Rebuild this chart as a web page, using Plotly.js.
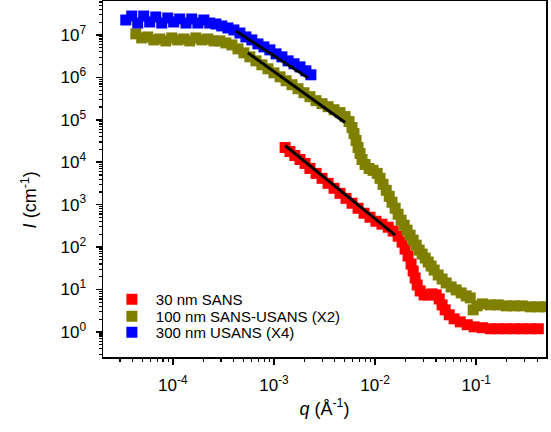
<!DOCTYPE html>
<html><head><meta charset="utf-8">
<script src="https://cdn.plot.ly/plotly-3.0.1.min.js"></script>
<style>html,body{margin:0;padding:0;background:#fff}</style>
</head><body><div id="chart" style="width:551px;height:432px"></div>
<script>
// ---- data ----
const seriesNames = ['30 nm SANS', '100 nm SANS-USANS (X2)', '300 nm USANS (X4)'];

const redQ = [1.29e-3, 1.44e-3, 1.61e-3, 1.81e-3, 2.03e-3, 2.27e-3, 2.61e-3, 2.99e-3, 3.43e-3, 3.93e-3,
  4.50e-3, 5.16e-3, 5.92e-3, 6.79e-3, 7.78e-3, 8.91e-3, 1.02e-2, 1.17e-2, 1.35e-2, 1.51e-2,
  1.69e-2, 1.85e-2, 1.98e-2, 2.12e-2, 2.27e-2, 2.38e-2, 2.49e-2, 2.61e-2, 2.79e-2, 3.05e-2,
  3.35e-2, 3.66e-2, 4.02e-2, 4.31e-2, 4.60e-2, 4.93e-2, 5.41e-2, 6.05e-2, 6.95e-2, 8.15e-2,
  9.55e-2, 1.15e-1, 1.38e-1, 1.65e-1, 1.98e-1, 2.38e-1, 2.85e-1, 3.43e-1, 4.11e-1];
const redI = [2.22e4, 1.79e4, 1.44e4, 1.16e4, 9.38e3, 7.14e3, 5.46e3, 4.17e3, 3.18e3, 2.43e3,
  1.85e3, 1.41e3, 1.08e3, 822, 628, 506, 407, 347, 294, 238,
  181, 131, 89.7, 61.5, 39.9, 27.4, 18.7, 12.8, 9.27, 7.46,
  7.46, 7.89, 7.46, 6.01, 4.35, 3.32, 2.54, 2.04, 1.73, 1.48,
  1.32, 1.26, 1.19, 1.19, 1.19, 1.19, 1.19, 1.19, 1.19];

const oliveQ = [4.31e-5, 4.93e-5, 5.65e-5, 6.49e-5, 7.43e-5, 8.53e-5, 9.77e-5, 1.12e-4, 1.29e-4, 1.47e-4,
  1.69e-4, 1.94e-4, 2.22e-4, 2.55e-4, 2.92e-4, 3.35e-4, 3.84e-4, 4.41e-4, 5.05e-4, 5.78e-4,
  6.64e-4, 7.60e-4, 8.73e-4, 1.00e-3, 1.15e-3, 1.32e-3, 1.51e-3, 1.73e-3, 1.98e-3, 2.27e-3,
  2.61e-3, 2.99e-3, 3.43e-3, 3.93e-3, 4.50e-3, 5.05e-3, 5.53e-3, 5.92e-3, 6.19e-3, 6.49e-3,
  6.79e-3, 7.10e-3, 7.43e-3, 7.96e-3, 8.73e-3, 9.55e-3, 1.05e-2, 1.12e-2, 1.20e-2, 1.29e-2,
  1.38e-2, 1.47e-2, 1.58e-2, 1.69e-2, 1.81e-2, 1.94e-2, 2.07e-2, 2.22e-2, 2.38e-2, 2.55e-2,
  2.73e-2, 2.92e-2, 3.13e-2, 3.35e-2, 3.58e-2, 3.84e-2, 4.21e-2, 4.60e-2, 5.05e-2, 5.65e-2,
  6.34e-2, 7.10e-2, 7.96e-2, 8.73e-2, 9.33e-2, 1.02e-1, 1.15e-1, 1.38e-1, 1.65e-1, 1.98e-1,
  2.38e-1, 2.85e-1, 3.43e-1, 4.11e-1, 4.93e-1];
const oliveI = [1.06e7, 8.51e6, 8.97e6, 7.64e6, 8.05e6, 7.23e6, 8.51e6, 7.64e6, 8.05e6, 7.23e6,
  8.51e6, 7.64e6, 8.05e6, 7.23e6, 7.23e6, 6.49e6, 5.82e6, 4.69e6, 3.78e6, 3.05e6,
  2.45e6, 1.98e6, 1.59e6, 1.28e6, 1.03e6, 8.32e5, 6.70e5, 5.40e5, 4.35e5, 3.51e5,
  2.82e5, 2.40e5, 2.04e5, 1.73e5, 1.48e5, 1.19e5, 9.08e4, 6.56e4, 4.74e4, 3.25e4,
  2.22e4, 1.61e4, 1.16e4, 8.87e3, 7.14e3, 6.43e3, 5.46e3, 4.17e3, 3.01e3, 2.18e3,
  1.57e3, 1.14e3, 822, 595, 430, 328, 251, 191, 146, 111,
  85.1, 68.5, 55.2, 44.5, 35.8, 28.8, 22.0, 17.7, 14.3, 11.5,
  9.79, 8.32, 7.08, 6.35, 3.32, 4.12, 4.59, 4.35, 4.35, 4.12,
  4.12, 4.12, 3.91, 3.91, 3.91];

const blueQ = [3.43e-5, 3.93e-5, 4.5e-5, 5.16e-5, 5.91e-5, 6.79e-5, 7.78e-5, 8.92e-5, 1.02e-4, 1.17e-4,
  1.35e-4, 1.54e-4, 1.77e-4, 2.03e-4, 2.32e-4, 2.67e-4, 3.05e-4, 3.51e-4, 4.02e-4, 4.61e-4,
  5.28e-4, 6.05e-4, 6.95e-4, 7.96e-4, 9.12e-4, 1.05e-3, 1.2e-3, 1.38e-3, 1.58e-3, 1.81e-3,
  2.07e-3, 2.32e-3];
const blueI = [2.25e7, 2.79e7, 1.91e7, 2.79e7, 2.02e7, 2.65e7, 1.91e7, 2.51e7, 2.02e7, 2.38e7,
  1.91e7, 2.38e7, 1.91e7, 2.25e7, 1.91e7, 1.81e7, 1.63e7, 1.46e7, 1.31e7, 1.11e7,
  8.98e6, 7.64e6, 6.15e6, 5.23e6, 4.45e6, 3.58e6, 3.05e6, 2.45e6, 2.09e6, 1.77e6,
  1.43e6, 1.15e6];

// power-law fit lines (end points)
const fitBlueQ = [4.2e-4, 2.17e-3];   const fitBlueI = [1.24e7, 9.8e5];
const fitOliveQ = [5.53e-4, 5.05e-3]; const fitOliveI = [3.78e6, 8.6e4];
const fitRedQ = [1.29e-3, 1.58e-2];   const fitRedI = [2.48e4, 191];

const xTickVals = [1e-4, 1e-3, 1e-2, 1e-1];
const xTickText = ['10<sup>-4</sup>', '10<sup>-3</sup>', '10<sup>-2</sup>', '10<sup>-1</sup>'];
const yTickVals = [1, 10, 100, 1e3, 1e4, 1e5, 1e6, 1e7];
const yTickText = ['10<sup>0</sup>', '10<sup>1</sup>', '10<sup>2</sup>', '10<sup>3</sup>',
  '10<sup>4</sup>', '10<sup>5</sup>', '10<sup>6</sup>', '10<sup>7</sup>'];
const xTitle = '<i>q</i> (Å<sup>-1</sup>)';
const yTitle = '<i>I</i> (cm<sup>-1</sup>)';

const colors = ['#ff0000', '#808000', '#0000ff'];

function minorTicks(dLo, dHi) {
  const v = [];
  for (let d = dLo; d <= dHi; d++) for (let k = 2; k <= 9; k++) v.push(k * Math.pow(10, d));
  return v;
}

const mk = (q, I, name, color, lg) => ({
  x: q, y: I, name: name, type: 'scatter', mode: 'markers', legend: lg,
  marker: {symbol: 'square', size: 11, color: color, line: {width: 0}}
});
const fit = (q, I) => ({
  x: q, y: I, type: 'scatter', mode: 'lines', showlegend: false, hoverinfo: 'skip',
  line: {color: '#000000', width: 3}
});

const traces = [
  mk(redQ, redI, seriesNames[0], colors[0], 'legend'),
  mk(oliveQ, oliveI, seriesNames[1], colors[1], 'legend2'),
  mk(blueQ, blueI, seriesNames[2], colors[2], 'legend3'),
  fit(fitRedQ, fitRedI), fit(fitOliveQ, fitOliveI), fit(fitBlueQ, fitBlueI)
];

const font = 'Liberation Sans, Arial, sans-serif';
const axisCommon = {
  type: 'log', showgrid: false, zeroline: false,
  showline: true, linecolor: '#000', linewidth: 1.5, mirror: true,
  ticks: 'outside', ticklen: 6, tickwidth: 1.5, tickcolor: '#000',
  tickmode: 'array', ticklabelstandoff: 6,
  tickfont: {family: font, size: 17, color: '#000'}
};
const legendBase = (y) => ({
  x: 0.011, xanchor: 'left', y: y, yanchor: 'top', itemwidth: 38,
  bgcolor: 'rgba(0,0,0,0)', font: {family: font, size: 15, color: '#000'}
});

const layout = {
  width: 551, height: 432,
  margin: {l: 103, r: 5, t: 1, b: 75},
  paper_bgcolor: '#fff', plot_bgcolor: '#fff',
  font: {family: font, color: '#000'},
  showlegend: true,
  legend: legendBase(0.208),
  legend2: legendBase(0.160),
  legend3: legendBase(0.115),
  xaxis: Object.assign({}, axisCommon, {
    range: [-4.69, -0.31], tickvals: xTickVals, ticktext: xTickText,
    minor: {tickmode: 'array', tickvals: minorTicks(-5, -1), ticks: 'outside', ticklen: 3, tickwidth: 1.2, tickcolor: '#000', showgrid: false},
    title: {text: xTitle, font: {family: font, size: 18}, standoff: 8}
  }),
  yaxis: Object.assign({}, axisCommon, {
    range: [-0.59, 7.80], tickvals: yTickVals, ticktext: yTickText,
    minor: {tickmode: 'array', tickvals: minorTicks(-1, 7), ticks: 'outside', ticklen: 3, tickwidth: 1.2, tickcolor: '#000', showgrid: false},
    title: {text: ''}
  }),
  annotations: [{
    text: yTitle, textangle: -90, xref: 'paper', yref: 'paper',
    x: -0.167, y: 0.44, xanchor: 'center', yanchor: 'middle', showarrow: false,
    font: {family: font, size: 18, color: '#000'}
  }]
};

Plotly.newPlot('chart', traces, layout, {staticPlot: true, displayModeBar: false});
</script>
</body></html>
